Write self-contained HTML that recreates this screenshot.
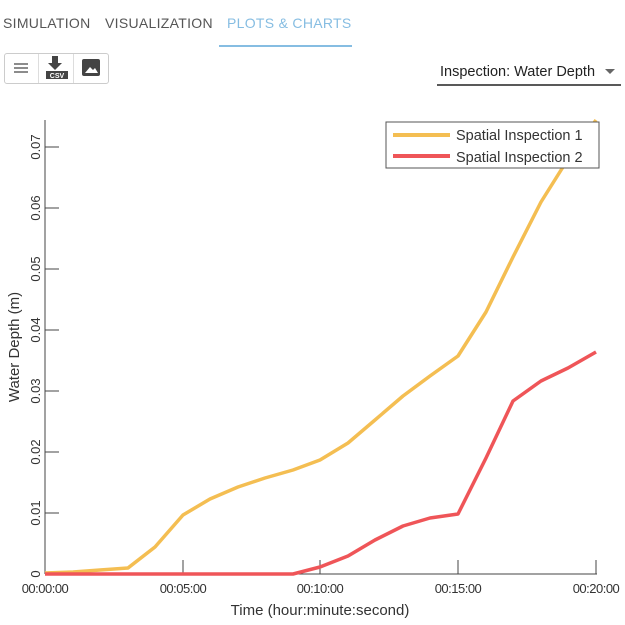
<!DOCTYPE html>
<html><head><style>
body{margin:0;width:625px;height:625px;background:#fff;font-family:"Liberation Sans",sans-serif;position:relative;overflow:hidden}
.tab{position:absolute;top:15px;font-size:14px;letter-spacing:0.3px;color:#555;font-weight:500}
</style></head><body>
<div class="tab" style="left:3px">SIMULATION</div>
<div class="tab" style="left:105px">VISUALIZATION</div>
<div class="tab" style="left:227px;color:#86bde2">PLOTS &amp; CHARTS</div>
<div style="position:absolute;left:219px;top:45px;width:133px;height:2px;background:#86bde2"></div>
<div style="position:absolute;left:4px;top:53px;width:103px;height:29px;border:1px solid #ccc;border-radius:3px"></div>
<div style="position:absolute;left:38px;top:54px;width:1px;height:29px;background:#ddd"></div>
<div style="position:absolute;left:73px;top:54px;width:1px;height:29px;background:#ddd"></div>
<svg style="position:absolute;left:0;top:0" width="625" height="625">
<g stroke="#666" stroke-width="1.5"><line x1="14" y1="64" x2="28" y2="64"/><line x1="14" y1="68" x2="28" y2="68"/><line x1="14" y1="72" x2="28" y2="72"/></g>
<rect x="52" y="56" width="6" height="8" fill="#444"/><polygon points="48,63 62,63 55,70" fill="#444"/>
<rect x="46" y="71" width="22" height="8" fill="#444"/><text x="57" y="78" font-size="7" fill="#fff" text-anchor="middle" font-weight="bold">CSV</text>
<rect x="82" y="59" width="18" height="17" rx="2" fill="#444"/><polygon points="85,73 90,67 93,70 95,68 98,73" fill="#fff"/>
<text x="440" y="76" font-size="14.5" fill="#222">Inspection: Water Depth</text>
<polygon points="605,69 615,69 610,74" fill="#666"/>
<line x1="437" y1="85" x2="621" y2="85" stroke="#222" stroke-width="1.5"/>
<g stroke="#444" stroke-width="1" fill="none">
<line x1="45" y1="120" x2="45" y2="574"/><line x1="45" y1="574" x2="597" y2="574"/>
<line x1="45" y1="513" x2="59" y2="513"/><line x1="45" y1="452" x2="59" y2="452"/><line x1="45" y1="391" x2="59" y2="391"/><line x1="45" y1="330" x2="59" y2="330"/><line x1="45" y1="269" x2="59" y2="269"/><line x1="45" y1="208" x2="59" y2="208"/><line x1="45" y1="147" x2="59" y2="147"/>
<line x1="183" y1="574" x2="183" y2="560"/><line x1="320" y1="574" x2="320" y2="560"/><line x1="458" y1="574" x2="458" y2="560"/><line x1="596" y1="574" x2="596" y2="560"/>
</g>
<g font-size="13" fill="#333" text-anchor="middle">
<text transform="translate(40,574) rotate(-90)">0</text>
<text transform="translate(40,513) rotate(-90)">0.01</text>
<text transform="translate(40,452) rotate(-90)">0.02</text>
<text transform="translate(40,391) rotate(-90)">0.03</text>
<text transform="translate(40,330) rotate(-90)">0.04</text>
<text transform="translate(40,269) rotate(-90)">0.05</text>
<text transform="translate(40,208) rotate(-90)">0.06</text>
<text transform="translate(40,147) rotate(-90)">0.07</text>
<text x="45" y="593" letter-spacing="-0.5">00:00:00</text>
<text x="183" y="593" letter-spacing="-0.5">00:05:00</text>
<text x="320" y="593" letter-spacing="-0.5">00:10:00</text>
<text x="458" y="593" letter-spacing="-0.5">00:15:00</text>
<text x="596" y="593" letter-spacing="-0.5">00:20:00</text>
<text x="320" y="615" font-size="15">Time (hour:minute:second)</text>
<text transform="translate(19,347) rotate(-90)" font-size="15">Water Depth (m)</text>
</g>
<polyline fill="none" stroke="#f4be52" stroke-width="3.5" stroke-linejoin="round" points="45,573 73,572 100,570 128,568 155,547 183,515 210,499 238,487 265,478 293,470 320,460 348,443 375,420 403,396 430,376 458,356 486,312 513,257 541,202 568,159 596,120"/>
<polyline fill="none" stroke="#ef5558" stroke-width="3.5" stroke-linejoin="round" points="45,574 293,574 320,567 348,556 375,540 403,526 430,518 458,514 486,458 513,401 541,381 568,368 596,352"/>
<rect x="386" y="122" width="213" height="46" fill="#fff" stroke="#555" stroke-width="1"/>
<line x1="393" y1="135" x2="450" y2="135" stroke="#f4be52" stroke-width="4"/>
<line x1="393" y1="156" x2="450" y2="156" stroke="#ef5558" stroke-width="4"/>
<text x="456" y="140" font-size="14.5" fill="#333">Spatial Inspection 1</text>
<text x="456" y="162" font-size="14.5" fill="#333">Spatial Inspection 2</text>
</svg>
</body></html>
